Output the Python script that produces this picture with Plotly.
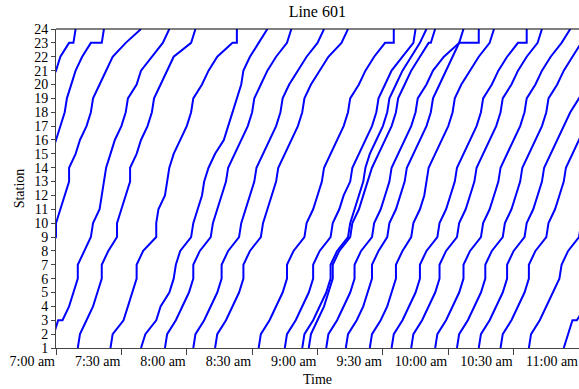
import plotly.graph_objects as go
from datetime import datetime, timedelta

# Stop sequence along Line 601; 3 and 23 appear twice (arrival / departure) for timed holds
STATIONS = [1, 2, 3, 3, 4, 5, 6, 7, 8, 9, 10, 11, 12, 13, 14, 15, 16,
            17, 18, 19, 20, 21, 22, 23, 23, 24]

# Passing times of each run, in minutes after 7:00 am, one value per entry of STATIONS
trip_01 = [-41, -40, -37, -37, -34, -32, -30, -30, -27, -23, -23, -21, -19, -17, -17, -14, -12, -9, -7, -6, -3, 0, 2, 6, 8, 9]
trip_02 = [-29, -28, -25, -25, -22, -20, -18, -18, -15, -11, -11, -9, -7, -5, -5, -2, 0, 2, 4, 5, 7, 9, 12, 16, 21, 22]
trip_03 = [-18, -17, -14, -14, -11, -9, -7, -7, -4, 0, 0, 2, 4, 6, 6, 9, 11, 14, 16, 17, 20, 23, 26, 32, 32, 39]
trip_04 = [-3, -1, 1, 3, 6, 8, 10, 10, 13, 16, 17, 20, 21, 22, 23, 25, 27, 30, 32, 33, 37, 39, 44, 49, 49, 52]
trip_05 = [10, 11, 14, 14, 17, 19, 21, 21, 24, 28, 28, 30, 32, 34, 34, 37, 39, 42, 44, 45, 48, 51, 54, 62, 62, 64]
trip_06 = [25, 26, 31, 31, 33, 35, 37, 37, 40, 46, 46, 47, 50, 51, 52, 54, 57, 60, 62, 63, 67, 70, 74, 81, 83, 83]
trip_07 = [39, 41, 46, 46, 48, 52, 54, 55, 57, 62, 63, 65, 67, 68, 70, 73, 77, 79, 81, 83, 85, 86, 89, 93, 93, 97]
trip_08 = [50, 51, 55, 55, 58, 61, 63, 63, 66, 71, 72, 74, 76, 78, 79, 82, 85, 88, 90, 91, 94, 97, 101, 106, 106, 108]
trip_09 = [63, 64, 68, 68, 71, 74, 76, 76, 79, 84, 85, 87, 89, 91, 92, 95, 98, 101, 103, 104, 107, 111, 115, 120, 120, 123]
trip_10 = [73, 74, 78, 78, 81, 84, 86, 86, 89, 94, 95, 97, 99, 101, 102, 105, 108, 111, 113, 114, 117, 121, 125, 131, 131, 134]
trip_11 = [93, 94, 98, 98, 101, 104, 106, 106, 109, 114, 115, 118, 120, 122, 123, 126, 129, 132, 134, 135, 139, 142, 146, 151, 155, 155]
trip_12 = [105, 106, 110, 110, 113, 116, 118, 118, 121, 126, 127, 130, 132, 135, 136, 139, 142, 145, 147, 148, 151, 154, 159, 164, 164, 165]
trip_13 = [113, 114, 118, 118, 121, 124, 126, 126, 129, 134, 135, 137, 139, 141, 142, 144, 147, 150, 152, 153, 156, 159, 163, 167, 167, 170]
trip_14 = [116, 117, 120, 120, 123, 125, 127, 127, 130, 135, 136, 139, 141, 143, 145, 148, 151, 154, 156, 157, 160, 163, 167, 171, 172, 174]
trip_15 = [124, 125, 129, 129, 132, 135, 137, 137, 140, 145, 146, 149, 151, 153, 154, 157, 160, 163, 165, 166, 170, 173, 178, 185, 185, 187]
trip_16 = [133, 134, 138, 138, 141, 143, 145, 145, 148, 152, 153, 156, 158, 160, 161, 164, 167, 170, 172, 173, 176, 179, 182, 185, 194, 194]
trip_17 = [144, 145, 149, 149, 152, 154, 156, 156, 159, 163, 164, 167, 169, 170, 171, 174, 177, 180, 182, 183, 186, 190, 194, 199, 199, 201]
trip_18 = [154, 155, 159, 159, 162, 165, 167, 167, 170, 175, 176, 179, 181, 183, 184, 187, 190, 193, 195, 196, 200, 203, 207, 212, 216, 216]
trip_19 = [163, 164, 168, 168, 171, 174, 176, 176, 179, 184, 185, 188, 190, 192, 193, 196, 199, 202, 204, 205, 209, 212, 216, 221, 221, 223]
trip_20 = [174, 175, 179, 179, 182, 185, 187, 187, 190, 195, 196, 199, 201, 203, 204, 207, 210, 213, 215, 216, 220, 223, 227, 232, 232, 236]
trip_21 = [184, 185, 189, 189, 192, 195, 197, 197, 200, 205, 206, 209, 211, 213, 214, 217, 220, 223, 225, 226, 230, 233, 237, 241, 241, 245]
trip_22 = [194, 195, 199, 199, 202, 205, 207, 207, 210, 215, 216, 219, 221, 223, 224, 227, 230, 233, 236, 240, 244, 247, 251, 256, 256, 259]
trip_23 = [204, 205, 209, 209, 212, 215, 217, 217, 220, 225, 226, 229, 231, 233, 234, 237, 240, 243, 245, 246, 250, 253, 257, 262, 262, 265]
trip_24 = [217, 218, 222, 222, 225, 228, 231, 232, 235, 240, 241, 244, 246, 248, 249, 252, 255, 258, 260, 261, 265, 268, 272, 277, 277, 280]
trip_25 = [233, 235, 237, 239, 243, 246, 248, 248, 251, 256, 257, 260, 262, 264, 265, 268, 271, 274, 276, 277, 281, 284, 288, 293, 293, 296]

TRIPS = [trip_01, trip_02, trip_03, trip_04, trip_05, trip_06, trip_07, trip_08, trip_09,
         trip_10, trip_11, trip_12, trip_13, trip_14, trip_15, trip_16, trip_17, trip_18,
         trip_19, trip_20, trip_21, trip_22, trip_23, trip_24, trip_25]

TICK_MINUTES = [0, 30, 60, 90, 120, 150, 180, 210, 240]
TICK_LABELS = ["7:00 am", "7:30 am", "8:00 am", "8:30 am", "9:00 am",
               "9:30 am", "10:00 am", "10:30 am", "11:00 am"]

BASE = datetime(2024, 1, 1, 7, 0)


def clock(minutes):
    return BASE + timedelta(minutes=minutes)


SERIF = "Liberation Serif, Times New Roman, serif"

fig = go.Figure()
for trip in TRIPS:
    assert len(trip) == len(STATIONS)
    fig.add_trace(go.Scatter(
        x=[clock(m) for m in trip],
        y=STATIONS,
        mode="lines",
        line=dict(color="#0000ff", width=2),
        showlegend=False,
        hoverinfo="skip",
    ))

fig.update_layout(
    width=579,
    height=389,
    margin=dict(l=56, r=0, t=29, b=41),
    paper_bgcolor="white",
    plot_bgcolor="white",
    font=dict(family=SERIF, size=14, color="black"),
    title=dict(text="Line 601", x=0.548, xanchor="center", y=0.985, yanchor="top",
               font=dict(family=SERIF, size=16, color="black")),
)

fig.update_xaxes(
    type="date",
    range=[clock(0), clock(240)],
    tickvals=[clock(m) for m in TICK_MINUTES],
    ticktext=TICK_LABELS,
    ticklabelposition="outside left",
    ticks="outside",
    ticklen=6,
    tickcolor="#444",
    showline=True,
    linecolor="#444",
    linewidth=1,
    mirror=False,
    showgrid=False,
    zeroline=False,
    title=dict(text="Time", standoff=6, font=dict(family=SERIF, size=14)),
    tickfont=dict(family=SERIF, size=14),
)

fig.update_yaxes(
    range=[1, 24],
    tickvals=list(range(1, 25)),
    ticks="outside",
    ticklen=4,
    tickcolor="#444",
    showline=True,
    linecolor="#444",
    linewidth=1,
    showgrid=False,
    zeroline=False,
    title=dict(text="Station", standoff=6, font=dict(family=SERIF, size=14)),
    tickfont=dict(family=SERIF, size=14),
)

# top border of the plotting area
fig.add_shape(type="line", xref="paper", yref="paper", x0=0, x1=1, y0=1, y1=1,
              line=dict(color="black", width=1))

fig.write_html("out.html")
